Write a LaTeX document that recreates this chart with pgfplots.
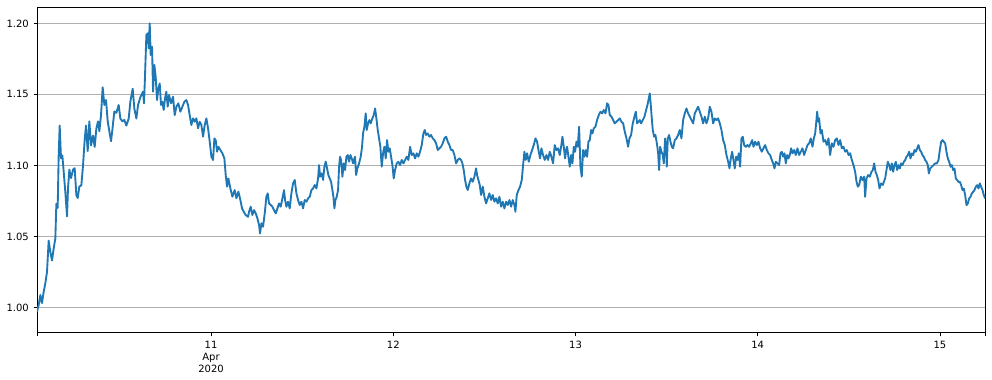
\documentclass[border=0pt]{standalone}
\usepackage{fontspec}
\setmainfont{DejaVu Sans}
\usepackage{pgfplots}
\pgfplotsset{compat=1.18}
\usetikzlibrary{calc}
\definecolor{mplblue}{HTML}{1F77B4}
\definecolor{gridgray}{HTML}{B0B0B0}
\begin{document}
\begin{tikzpicture}
\begin{axis}[
  scale only axis,
  width=711pt, height=244pt,
  xmin=10.045, xmax=15.249,
  ymin=0.9821, ymax=1.2113,
  axis line style={black, line width=0.6pt},
  tick align=outside,
  major tick length=2.6pt,
  tick style={black, line width=0.6pt},
  xtick={10.045,11,12,13,14,15,15.249},
  xticklabels={{},{11\\Apr\\2020},12,13,14,15,{}},
  xticklabel style={align=center, font=\fontsize{7.5}{9}\selectfont},
  ytick={1.00,1.05,1.10,1.15,1.20},
  yticklabel style={font=\fontsize{7.5}{9}\selectfont, /pgf/number format/.cd, fixed, fixed zerofill, precision=2},
  /pgf/number format/assume math mode=true,
  ymajorgrids,
  grid style={gridgray, line width=0.6pt},
  xtick pos=bottom, ytick pos=left,
]
\addplot[mplblue, line width=1.4pt, line join=round] table {
10.045 0.997
10.0541 1.0016
10.0633 1.0087
10.0724 1.003
10.0816 1.011
10.0907 1.017
10.0999 1.025
10.109 1.047
10.1182 1.039
10.1273 1.033
10.1365 1.0415
10.1456 1.0486
10.1511 1.073
10.1584 1.070
10.1639 1.107
10.1694 1.128
10.1767 1.105
10.184 1.107
10.1914 1.0955
10.2005 1.081
10.2097 1.064
10.2151 1.084
10.2225 1.097
10.2316 1.091
10.2426 1.097
10.2517 1.098
10.2609 1.079
10.2682 1.077
10.2773 1.085
10.2883 1.086
10.2975 1.100
10.3066 1.118
10.3139 1.128
10.3231 1.110
10.3322 1.131
10.3414 1.114
10.3524 1.121
10.3615 1.113
10.3707 1.126
10.3798 1.131
10.3871 1.124
10.3963 1.1355
10.4054 1.155
10.4146 1.1425
10.4237 1.146
10.4329 1.131
10.442 1.124
10.4512 1.117
10.4585 1.125
10.4694 1.138
10.4804 1.137
10.4932 1.1425
10.5024 1.133
10.5134 1.131
10.5243 1.132
10.5353 1.128
10.5481 1.133
10.5573 1.145
10.5701 1.154
10.5792 1.140
10.5902 1.133
10.5993 1.1425
10.6121 1.148
10.6268 1.1519
10.6323 1.1437
10.6378 1.1636
10.6451 1.1918
10.6524 1.193
10.6579 1.1824
10.6634 1.200
10.6689 1.1777
10.6762 1.1836
10.6817 1.1519
10.6890 1.1707
10.6963 1.1624
10.7036 1.146
10.7110 1.1542
10.7183 1.1577
10.7256 1.1425
10.7329 1.1448
10.7402 1.139
10.7475 1.1472
10.7549 1.1519
10.7622 1.1413
10.7695 1.1495
10.7805 1.1437
10.7915 1.1484
10.8006 1.1354
10.8098 1.1413
10.8207 1.1437
10.8317 1.1378
10.8427 1.1413
10.8537 1.1448
10.8646 1.146
10.8738 1.1425
10.8829 1.1354
10.8921 1.1284
10.9012 1.1331
10.9104 1.1307
10.9195 1.1331
10.9287 1.1261
10.9378 1.1307
10.9470 1.1284
10.9561 1.1202
10.9653 1.1284
10.9744 1.1331
10.9836 1.1261
10.9927 1.1167
11.0019 1.1061
11.0110 1.1038
11.0183 1.119
11.0256 1.1178
11.0330 1.1096
11.0403 1.1131
11.0512 1.1108
11.0622 1.1085
11.0732 1.1049
11.0805 1.0932
11.0878 1.085
11.0951 1.0908
11.1061 1.0838
11.1171 1.0779
11.1299 1.0826
11.1390 1.0768
11.1500 1.0815
11.1610 1.0756
11.1701 1.0697
11.1793 1.0674
11.1903 1.065
11.2031 1.0638
11.2086 1.0674
11.2177 1.0709
11.2269 1.065
11.2360 1.0685
11.2452 1.0662
11.2543 1.0627
11.2635 1.058
11.2690 1.0521
11.2763 1.0592
11.2854 1.0568
11.2946 1.0662
11.3037 1.0779
11.3110 1.0803
11.3184 1.0732
11.3275 1.0721
11.3367 1.0709
11.3458 1.0685
11.3550 1.0662
11.3641 1.0697
11.3733 1.0732
11.3824 1.0709
11.3916 1.0768
11.4007 1.0826
11.4062 1.0756
11.4135 1.0709
11.4227 1.0744
11.4318 1.0697
11.4409 1.0803
11.4501 1.0873
11.4592 1.0897
11.4684 1.0803
11.4775 1.0756
11.4867 1.0721
11.4958 1.0744
11.5050 1.0697
11.5141 1.0756
11.5233 1.0744
11.5324 1.0768
11.5416 1.0779
11.5507 1.0826
11.5599 1.0838
11.5690 1.0862
11.5782 1.0838
11.5873 1.0908
11.5928 1.1002
11.5983 1.092
11.6074 1.0944
11.6148 1.0897
11.6221 1.0991
11.6294 1.1026
11.6367 1.0979
11.6440 1.0932
11.6513 1.0908
11.6587 1.0885
11.6660 1.0826
11.6715 1.0779
11.6770 1.0697
11.6824 1.0756
11.6898 1.0779
11.6971 1.0826
11.7026 1.0991
11.7081 1.1061
11.7135 1.1038
11.7208 1.092
11.7282 1.1014
11.7355 1.0967
11.7428 1.1061
11.7501 1.1073
11.7575 1.1026
11.7648 1.1073
11.7721 1.1049
11.7794 1.1014
11.7867 1.1049
11.7903 1.1061
11.7958 1.0932
11.8031 1.0979
11.8123 1.1014
11.8214 1.1061
11.8287 1.1131
11.8342 1.1225
11.8415 1.1272
11.8488 1.1366
11.8543 1.1249
11.8617 1.1296
11.8690 1.1319
11.8763 1.1296
11.8854 1.1331
11.8928 1.1354
11.9001 1.1401
11.9074 1.1331
11.9147 1.1249
11.9220 1.119
11.9293 1.1131
11.9367 1.0991
11.9440 1.1085
11.9513 1.1131
11.9586 1.1049
11.9659 1.1178
11.9733 1.1096
11.9806 1.112
11.9879 1.1061
11.9952 1.1002
12.0025 1.0908
12.0098 1.0967
12.0190 1.1014
12.0281 1.1026
12.0373 1.1002
12.0464 1.1038
12.0556 1.1014
12.0647 1.1038
12.0739 1.1061
12.0830 1.1038
12.0922 1.1131
12.1013 1.1073
12.1105 1.1085
12.1196 1.1049
12.1288 1.1085
12.1379 1.1061
12.1471 1.1096
12.1562 1.1143
12.1654 1.1225
12.1727 1.1249
12.1800 1.1214
12.1891 1.1225
12.1983 1.1202
12.2074 1.1214
12.2166 1.119
12.2257 1.1178
12.2349 1.1155
12.2440 1.1108
12.2532 1.112
12.2623 1.1131
12.2715 1.1155
12.2806 1.119
12.2898 1.1202
12.2989 1.1167
12.3081 1.1143
12.3172 1.1108
12.3264 1.1108
12.3355 1.1073
12.3447 1.1014
12.3538 1.1038
12.3630 1.1049
12.3721 1.1038
12.3794 1.1014
12.3867 1.0967
12.3941 1.0897
12.4014 1.085
12.4087 1.0826
12.4178 1.0873
12.4270 1.0908
12.4361 1.0885
12.4453 1.092
12.4544 1.0979
12.4599 1.0932
12.4672 1.0897
12.4745 1.0862
12.4819 1.0791
12.4910 1.085
12.5002 1.0779
12.5093 1.0732
12.5185 1.0768
12.5276 1.0803
12.5368 1.0756
12.5459 1.0791
12.5551 1.0744
12.5642 1.0768
12.5734 1.0732
12.5825 1.0779
12.5917 1.0709
12.6008 1.0744
12.6100 1.0697
12.6191 1.0744
12.6283 1.0721
12.6374 1.0756
12.6465 1.0709
12.6557 1.0756
12.6648 1.0721
12.6703 1.0674
12.6776 1.0791
12.6868 1.0826
12.6959 1.085
12.7051 1.0897
12.7124 1.1002
12.7197 1.1096
12.7270 1.1038
12.7343 1.1085
12.7435 1.1026
12.7526 1.1073
12.7618 1.1108
12.7709 1.1143
12.7801 1.119
12.7892 1.1167
12.7984 1.1096
12.8057 1.1049
12.8130 1.112
12.8221 1.1073
12.8313 1.1038
12.8404 1.1073
12.8496 1.1038
12.8587 1.1096
12.8679 1.1061
12.8770 1.1014
12.8862 1.1143
12.8953 1.1108
12.9045 1.112
12.9136 1.1073
12.9210 1.1131
12.9283 1.1202
12.9356 1.1131
12.9429 1.1049
12.9502 1.112
12.9539 1.1131
12.9612 1.1061
12.9685 1.0991
12.9759 1.1073
12.9832 1.1014
12.9905 1.1131
12.9978 1.1096
13.0051 1.1167
13.0124 1.1131
13.0198 1.1272
13.0271 1.0991
13.0344 1.092
13.0417 1.1108
13.0490 1.1061
13.0563 1.1108
13.0637 1.1061
13.0710 1.1167
13.0783 1.1178
13.0856 1.1249
13.0929 1.1225
13.1003 1.1261
13.1094 1.1272
13.1186 1.1319
13.1277 1.1354
13.1369 1.1378
13.1460 1.1366
13.1552 1.1390
13.1643 1.1366
13.1735 1.1437
13.1808 1.1425
13.1881 1.1354
13.1972 1.1343
13.2064 1.1319
13.2155 1.1296
13.2247 1.1307
13.2338 1.1319
13.2430 1.1331
13.2521 1.1307
13.2613 1.1296
13.2704 1.1237
13.2796 1.119
13.2887 1.1131
13.2960 1.119
13.3052 1.1214
13.3143 1.1296
13.3235 1.1343
13.3308 1.1378
13.3381 1.1296
13.3454 1.1307
13.3527 1.1319
13.3601 1.1296
13.3692 1.1319
13.3784 1.1343
13.3875 1.1390
13.3948 1.1425
13.4021 1.1472
13.4076 1.1507
13.4131 1.1425
13.4186 1.1331
13.4241 1.1249
13.4314 1.1202
13.4387 1.1214
13.4479 1.1143
13.4534 1.1085
13.4589 1.0967
13.4643 1.1131
13.4717 1.1096
13.4790 1.1073
13.4845 1.1014
13.4918 1.119
13.4973 1.1131
13.5009 1.0991
13.5064 1.119
13.5137 1.1214
13.5211 1.1167
13.5284 1.1131
13.5357 1.112
13.5448 1.1178
13.5540 1.119
13.5631 1.1214
13.5723 1.1249
13.5814 1.119
13.5906 1.1319
13.5997 1.1366
13.6089 1.1401
13.6180 1.1366
13.6272 1.1343
13.6363 1.1319
13.6455 1.1296
13.6546 1.1366
13.6638 1.139
13.6729 1.1413
13.6821 1.1378
13.6912 1.1343
13.7004 1.1296
13.7095 1.1343
13.7187 1.1296
13.7278 1.1331
13.7369 1.1413
13.7461 1.1378
13.7552 1.1296
13.7644 1.1331
13.7735 1.1319
13.7827 1.1331
13.7918 1.1296
13.8010 1.1249
13.8101 1.1178
13.8193 1.1143
13.8284 1.1073
13.8376 1.1026
13.8449 1.0979
13.8522 1.1049
13.8595 1.1096
13.8668 1.1038
13.8741 1.0979
13.8815 1.1061
13.8888 1.1038
13.8961 1.1085
13.9034 1.0991
13.9107 1.119
13.9180 1.1202
13.9254 1.1143
13.9345 1.1131
13.9437 1.1143
13.9528 1.1131
13.9620 1.1155
13.9693 1.1178
13.9766 1.1131
13.9857 1.1167
13.9949 1.1143
14.0040 1.1167
14.0132 1.112
14.0223 1.1096
14.0315 1.112
14.0406 1.1143
14.0498 1.1108
14.0589 1.1085
14.0681 1.1073
14.0772 1.1038
14.0845 1.1014
14.0919 1.0979
14.0992 1.1026
14.1083 1.1014
14.1175 1.1002
14.1248 1.1085
14.1321 1.1096
14.1395 1.1061
14.1468 1.1085
14.1541 1.1014
14.1614 1.1073
14.1687 1.1049
14.1760 1.1073
14.1834 1.112
14.1907 1.1085
14.1998 1.1108
14.2090 1.1073
14.2181 1.112
14.2273 1.1073
14.2364 1.1096
14.2456 1.112
14.2547 1.1073
14.2639 1.1108
14.2730 1.1143
14.2822 1.1155
14.2913 1.119
14.3005 1.1131
14.3078 1.119
14.3151 1.1225
14.3206 1.1296
14.3261 1.1378
14.3316 1.1307
14.3370 1.1331
14.3444 1.1225
14.3517 1.1249
14.3608 1.1167
14.3700 1.1178
14.3791 1.1143
14.3883 1.119
14.3974 1.1073
14.4066 1.1155
14.4157 1.1131
14.4249 1.1178
14.4340 1.119
14.4432 1.1143
14.4523 1.1178
14.4615 1.112
14.4706 1.1131
14.4797 1.1096
14.4889 1.1108
14.4980 1.1073
14.5072 1.1085
14.5163 1.1038
14.5255 1.1002
14.5346 1.0955
14.5420 1.0885
14.5493 1.085
14.5566 1.0862
14.5657 1.092
14.5749 1.0897
14.5840 1.092
14.5895 1.0779
14.5968 1.0908
14.6060 1.0932
14.6151 1.092
14.6243 1.0955
14.6316 1.0967
14.6389 1.1014
14.6462 1.0955
14.6535 1.0932
14.6609 1.0897
14.6682 1.0838
14.6773 1.0873
14.6865 1.0862
14.6956 1.0897
14.6992 1.0908
14.7065 1.0967
14.7138 1.1025
14.7212 1.1002
14.7285 1.0967
14.7358 1.1014
14.7431 1.0955
14.7504 1.1002
14.7577 1.1025
14.7651 1.0967
14.7724 1.1002
14.7797 1.0978
14.7870 1.1014
14.7943 1.1002
14.8016 1.1025
14.8090 1.1037
14.8163 1.1061
14.8236 1.1072
14.8309 1.1096
14.8382 1.1049
14.8456 1.1084
14.8529 1.1072
14.8602 1.1108
14.8675 1.1096
14.8748 1.1119
14.8821 1.1143
14.8895 1.1108
14.8968 1.1096
14.9041 1.1072
14.9114 1.1061
14.9187 1.1037
14.9261 1.1025
14.9334 1.1002
14.9389 1.0943
14.9462 1.0978
14.9553 1.0990
14.9645 1.1002
14.9736 1.1014
14.9828 1.1014
14.9919 1.1037
14.9992 1.1108
15.0065 1.1166
15.0139 1.1178
15.0212 1.1166
15.0285 1.1155
15.0358 1.1096
15.0431 1.1049
15.0505 1.1025
15.0578 1.0990
15.0651 1.1002
15.0724 1.0967
15.0797 1.0978
15.0871 1.0908
15.0944 1.0896
15.1017 1.0884
15.1090 1.0884
15.1163 1.0861
15.1236 1.0826
15.1310 1.0837
15.1383 1.0790
15.1456 1.0720
15.1529 1.0732
15.1602 1.0767
15.1676 1.0779
15.1749 1.0802
15.1822 1.0814
15.1895 1.0826
15.1968 1.0849
15.2041 1.0861
15.2115 1.0837
15.2188 1.0873
15.2261 1.0849
15.2334 1.0826
15.2407 1.0790
15.2480 1.0767
};
\end{axis}
\pgfresetboundingbox
\path ($(current axis.south west)+(-27.75pt,-34.7pt)$) rectangle ($(current axis.north east)+(5pt,5.5pt)$);
\end{tikzpicture}
\end{document}
